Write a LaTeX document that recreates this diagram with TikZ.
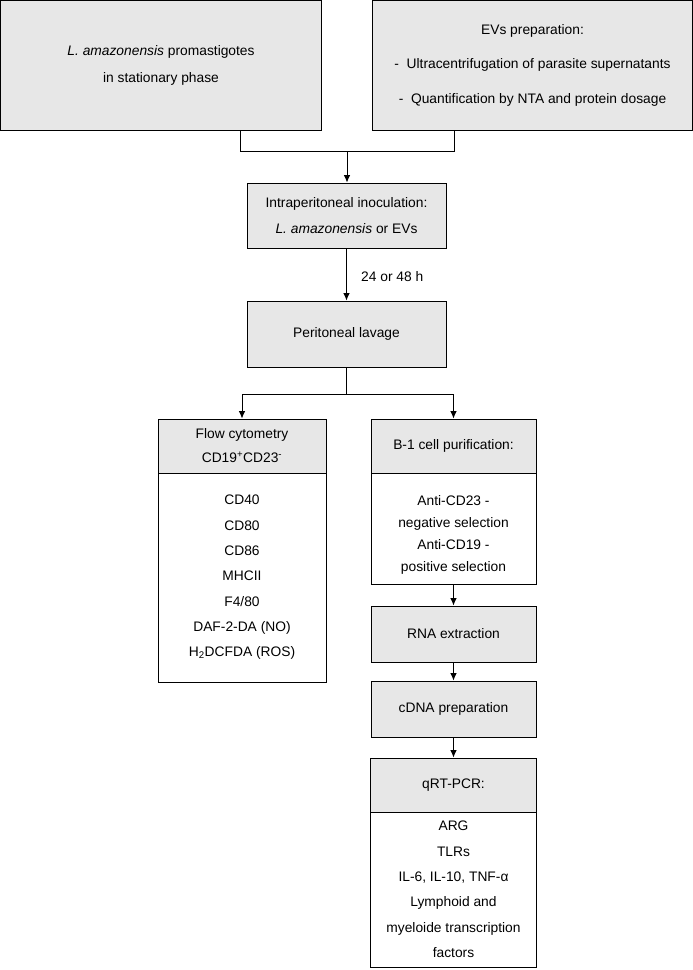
\documentclass[tikz,border=0pt]{standalone}
\usepackage{fontspec}
\setmainfont{Liberation Sans}
\usetikzlibrary{arrows.meta}
\definecolor{boxgray}{RGB}{231,231,231}
\begin{document}
\begin{tikzpicture}[x=1pt,y=-1pt,
  box/.style={draw, line width=0.9pt, fill=boxgray, align=center, inner sep=0pt, font=\fontsize{13.8}{26}\selectfont},
  wbox/.style={box, fill=white},
  txt/.style={align=center, inner sep=0pt},
  arr/.style={-{Latex[length=7.5pt,width=6.5pt]}, line width=0.9pt},
  ln/.style={line width=0.9pt},
  lbl/.style={font=\fontsize{13.8}{16}\selectfont, inner sep=0pt}]
\useasboundingbox (0,0) rectangle (693,970);

\node[box, minimum width=321pt, minimum height=129.5pt, font=\fontsize{13.8}{27.5}\selectfont] (src) at (161,65.25)
  {\textit{L. amazonensis} promastigotes\\in stationary phase};
\node[box, minimum width=320pt, minimum height=129.5pt, font=\fontsize{13.8}{34.5}\selectfont] (evs) at (532.5,65.25)
  {EVs preparation:\\-\ \ Ultracentrifugation of parasite supernatants\\-\ \ Quantification by NTA and protein dosage};

\node[box, minimum width=199pt, minimum height=65pt] (intra) at (346.5,215.5)
  {Intraperitoneal inoculation:\\\textit{L. amazonensis} or EVs};
\node[box, minimum width=199pt, minimum height=66pt] (lav) at (346.5,334) {Peritoneal lavage};

\node[box, minimum width=168pt, minimum height=54pt, font=\fontsize{13.8}{24}\selectfont] (flowh) at (242,446)
  {Flow cytometry\\CD19\textsuperscript{+}CD23\textsuperscript{-}};
\node[wbox, minimum width=168pt, minimum height=209pt, font=\fontsize{13.8}{25.3}\selectfont] (flowb) at (242,577.5)
  {CD40\\CD80\\CD86\\MHCII\\F4/80\\DAF-2-DA (NO)\\H\textsubscript{2}DCFDA (ROS)};

\node[box, minimum width=165pt, minimum height=54pt] (b1h) at (453.5,446) {B-1 cell purification:};
\node[wbox, minimum width=165pt, minimum height=111pt] (b1b) at (453.5,528.5) {};
\node[txt, font=\fontsize{13.8}{22}\selectfont] (b1t) at (453.5,535)
  {Anti-CD23 -\\negative selection\\Anti-CD19 -\\positive selection};

\node[box, minimum width=165pt, minimum height=56pt] (rna) at (453.5,634) {RNA extraction};
\node[box, minimum width=165pt, minimum height=56pt] (cdna) at (453.5,709) {cDNA preparation};

\node[box, minimum width=166pt, minimum height=54pt] (qh) at (453.5,785) {qRT-PCR:};
\node[wbox, minimum width=166pt, minimum height=155pt, font=\fontsize{13.8}{25.4}\selectfont] (qb) at (453.5,889.5)
  {ARG\\TLRs\\IL-6, IL-10, TNF-α\\Lymphoid and\\myeloide transcription\\factors};

% connectors
\coordinate (jl) at (240,151);
\coordinate (jr) at (454,151);
\coordinate (jm) at (347,151);
\draw[ln] (src.south -| jl) -- (jl) -- (jr) -- (evs.south -| jr);
\draw[arr] (jm) -- (jm |- intra.north);
\draw[arr] (intra) -- (lav);
\node[lbl, anchor=west] (time) at (361,277) {24 or 48 h};
\coordinate (sp) at (346.5,394);
\draw[ln] (lav.south) -- (sp);
\draw[arr] (sp) -| (flowh.north);
\draw[arr] (sp) -| (b1h.north);
\draw[arr] (b1b) -- (rna);
\draw[arr] (rna) -- (cdna);
\draw[arr] (cdna) -- (qh);
\end{tikzpicture}
\end{document}
